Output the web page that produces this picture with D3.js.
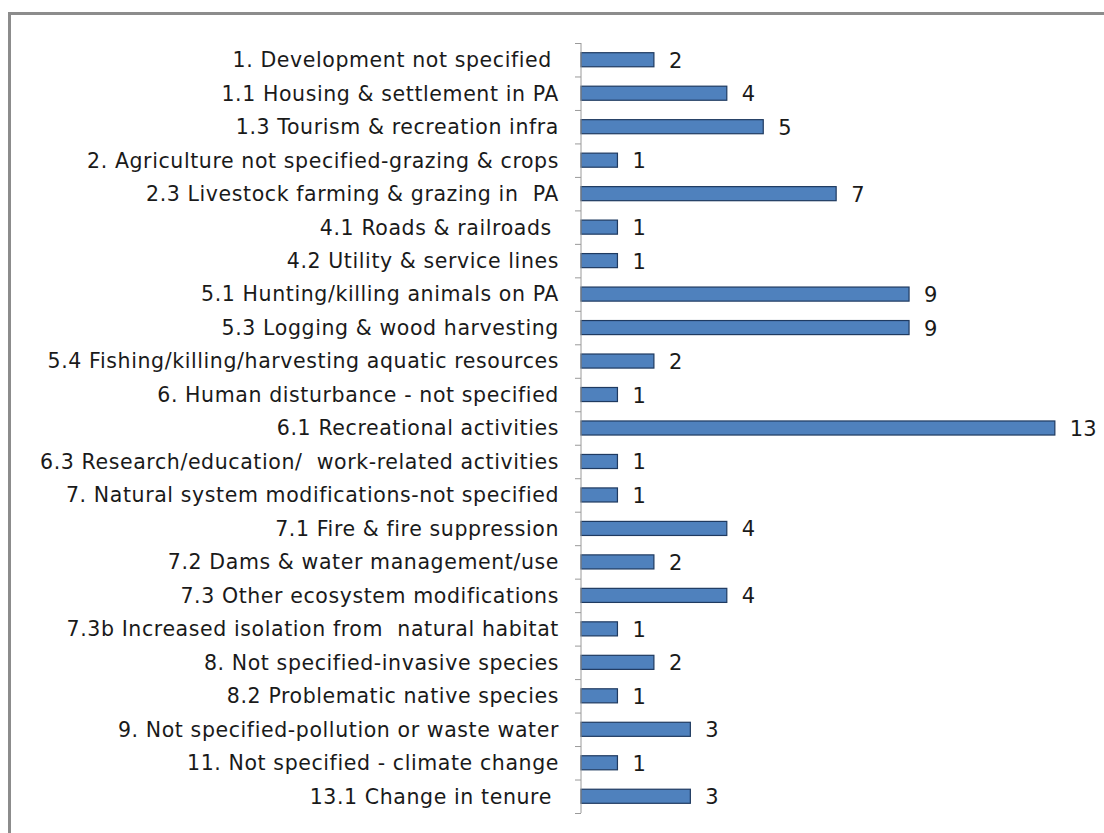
<!DOCTYPE html>
<html><head><meta charset="utf-8">
<script src="https://cdn.jsdelivr.net/npm/d3@7"></script>
<style>body{margin:0;background:#fff}svg text{white-space:pre}</style>
</head><body><svg id="c" width="1104" height="833"></svg>
<script>
const categories = [
"1. Development not specified ",
"1.1 Housing & settlement in PA",
"1.3 Tourism & recreation infra",
"2. Agriculture not specified-grazing & crops",
"2.3 Livestock farming & grazing in  PA",
"4.1 Roads & railroads ",
"4.2 Utility & service lines",
"5.1 Hunting/killing animals on PA",
"5.3 Logging & wood harvesting",
"5.4 Fishing/killing/harvesting aquatic resources",
"6. Human disturbance - not specified",
"6.1 Recreational activities",
"6.3 Research/education/  work-related activities",
"7. Natural system modifications-not specified",
"7.1 Fire & fire suppression",
"7.2 Dams & water management/use",
"7.3 Other ecosystem modifications",
"7.3b Increased isolation from  natural habitat",
"8. Not specified-invasive species",
"8.2 Problematic native species",
"9. Not specified-pollution or waste water",
"11. Not specified - climate change",
"13.1 Change in tenure "
];
const values = [2,4,5,1,7,1,1,9,9,2,1,13,1,1,4,2,4,1,2,1,3,1,3];

const svg = d3.select("#c");
svg.append("rect").attr("x",9.5).attr("y",13.5).attr("width",1110).attr("height",840)
  .attr("fill","none").attr("stroke","#8c8c8c").attr("stroke-width",3);

const x0 = 581, yTop = 43, yBot = 813;
const x = d3.scaleLinear().domain([0,13]).range([x0, x0 + 13*36.45]);
const y = d3.scaleBand().domain(categories).range([yTop,yBot]).paddingInner(0.58).paddingOuter(0.29);

svg.selectAll("rect.bar").data(values).enter().append("rect")
  .attr("class","bar")
  .attr("x", x(0)).attr("y",(d,i)=>y(categories[i]))
  .attr("width", d=>x(d)-x(0)).attr("height", y.bandwidth())
  .attr("fill","#4f81bd").attr("stroke","#1f3a60").attr("stroke-width",1.2);

const axis = d3.axisLeft(d3.scaleLinear().domain([0,23]).range([yTop,yBot]))
  .tickValues(d3.range(0,24)).tickSize(6).tickFormat("");
const g = svg.append("g").attr("transform",`translate(${x0},0)`).call(axis);
g.select(".domain").attr("stroke","#9a9a9a").attr("d",`M0,${yTop}V${yBot}`);
g.selectAll(".tick line").attr("stroke","#9a9a9a");

svg.selectAll("text.cat").data(categories).enter().append("text")
  .attr("class","cat")
  .attr("x", 559).attr("y", d=>y(d)+y.bandwidth()/2)
  .attr("dy","0.36em").attr("text-anchor","end")
  .attr("font-family","DejaVu Sans").attr("font-size",20.5)
  .attr("letter-spacing",0.6)
  .attr("fill","#1a1a1a").text(d=>d);

svg.selectAll("text.val").data(values).enter().append("text")
  .attr("class","val")
  .attr("x",(d)=>x(d)+15).attr("y",(d,i)=>y(categories[i])+y.bandwidth()/2)
  .attr("dy","0.38em")
  .attr("font-family","DejaVu Sans").attr("font-size",21)
  .attr("fill","#1a1a1a").text(d=>d);
</script></body></html>
